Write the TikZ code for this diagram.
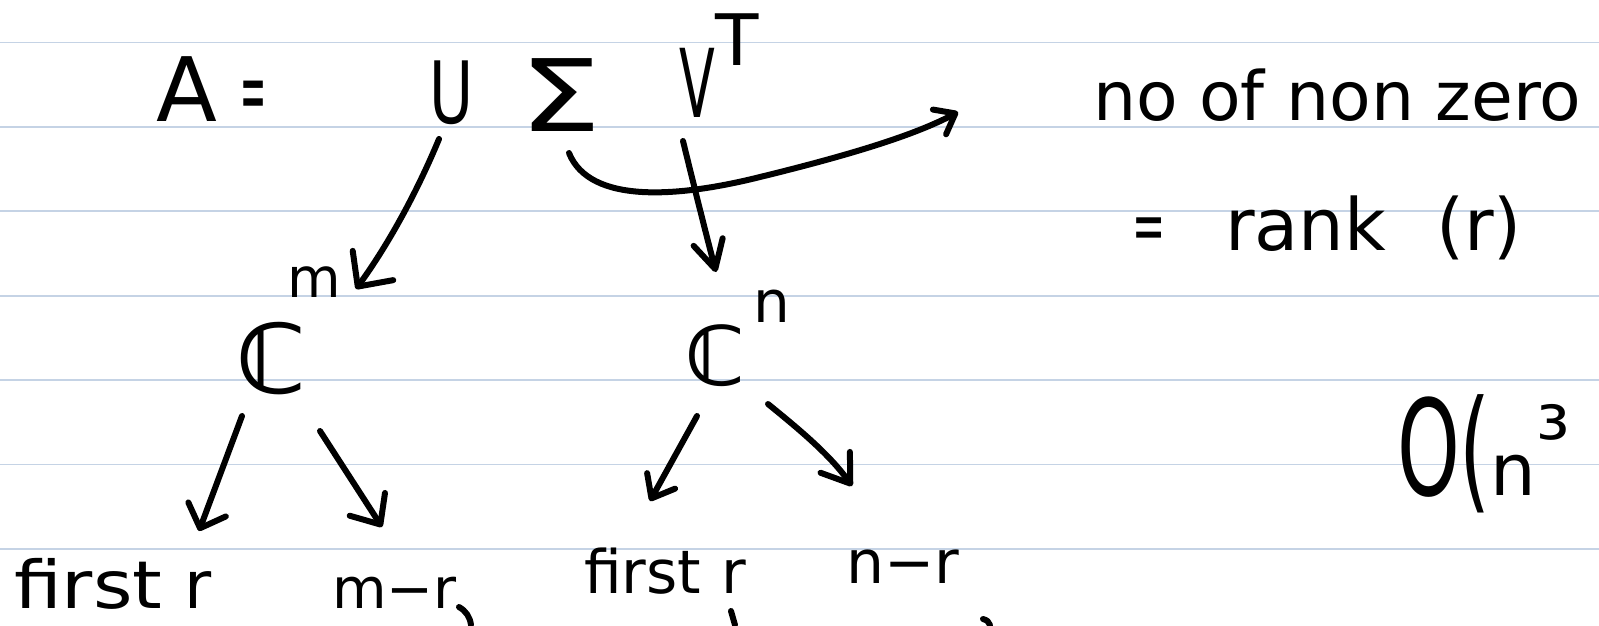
\documentclass[tikz,border=0pt]{standalone}
\usepackage{fontspec}
\usepackage{graphicx}
\setmainfont{DejaVu Sans}
\usetikzlibrary{arrows.meta}
\newcommand{\fsz}[1]{\fontsize{#1pt}{#1pt}\selectfont}
\definecolor{ruleblue}{RGB}{197,211,229}
\begin{document}
\begin{tikzpicture}[x=1pt,y=-1pt,
  lbl/.style={inner sep=0pt,outer sep=0pt,text=black},
  pen/.style={line width=6pt,line cap=round,line join=round},
  ruled/.style={draw=ruleblue,line width=1.6pt}]
\useasboundingbox (0,0) rectangle (1599,625);
\fill[white] (0,0) rectangle (1599,625);
\foreach \yy in {42.5,127,211,296,380,464.5,549} \draw[ruled] (0,\yy) -- (1599,\yy);

% top equation
\node[lbl,anchor=base west,font=\fsz{89}] (A) at (156,121) {A\hspace{24pt}\scalebox{0.35}[1]{=}};
\node[lbl,anchor=base,font=\fsz{86}] (U) at (452,123) {\scalebox{0.7}[1]{U}};
\node[lbl,anchor=base,font=\fsz{100}] (S) at (561,131) {\scalebox{1.3}[1]{Σ}};
\node[lbl,anchor=base,font=\fsz{95}] (V) at (697,117) {\scalebox{0.55}[1]{V}};
\node[lbl,anchor=base,font=\fsz{71}] (T) at (737,65) {T};

% right notes
\node[lbl,anchor=base west,font=\fsz{68}] (nz) at (1093,120) {no of non zero};
\node[lbl,anchor=base west,font=\fsz{72}] (rk) at (1132,250) {\scalebox{0.55}[1]{=}\hspace{60pt}rank\hspace{50pt}(r)};
\node[lbl,anchor=base west] (On) at (1397,495) {{\fsz{133}\scalebox{0.6}[1]{O(}}{\fsz{72}n}{\fsz{85}\raisebox{28pt}{³}}};

% C^m and C^n
\node[lbl,anchor=base west,font=\fsz{96}\bfseries] (Cm) at (236,393) {ℂ};
\node[lbl,anchor=base west,font=\fsz{55}] (m) at (287,297) {m};
\node[lbl,anchor=base west,font=\fsz{82}\bfseries] (Cn) at (685,385) {ℂ};
\node[lbl,anchor=base west,font=\fsz{58}] (n) at (753,322) {n};

% bottom labels
\node[lbl,anchor=base west,font=\fsz{66}] (f1) at (14,608) {\scalebox{1.15}[1]{first}\hspace{22pt}r};
\node[lbl,anchor=base west,font=\fsz{56}] (mr) at (332,608) {m−r};
\node[lbl,anchor=base west,font=\fsz{60}] (f2) at (584,593) {first\hspace{20pt}r};
\node[lbl,anchor=base west,font=\fsz{60}] (nr) at (846,583) {n−r};

% arrow end points
\coordinate (uS) at (439,139);
\coordinate (uE) at (356,289);
\coordinate (vS) at (683,141);
\coordinate (vE) at (716,272);
\coordinate (sS) at (569,153);
\coordinate (sE) at (958,112);
\coordinate (a1S) at (242,416);
\coordinate (a1E) at (199,531);
\coordinate (a2S) at (320,431);
\coordinate (a2E) at (382,527);
\coordinate (b1S) at (697,416);
\coordinate (b1E) at (650,501);
\coordinate (b2S) at (768,404);
\coordinate (b2E) at (852,486);

\draw[pen,-{Straight Barb[length=26pt,width=50pt,round]}] (uS) .. controls (422,180) and (395,235) .. (uE);
\draw[pen,-{Straight Barb[length=28pt,width=30pt,round]}] (vS) .. controls (695,190) and (705,230) .. (vE);
\draw[pen,-{Straight Barb[length=18pt,width=28pt,round]}] (sS) .. controls (590,205) and (680,197) .. (760,177) .. controls (850,155) and (915,135) .. (sE);
\draw[pen,-{Straight Barb[length=20pt,width=40pt,round]}] (a1S) -- (a1E);
\draw[pen,-{Straight Barb[length=24pt,width=42pt,round]}] (a2S) -- (a2E);
\draw[pen,-{Straight Barb[length=20pt,width=32pt,round]}] (b1S) -- (b1E);
\draw[pen,-{Straight Barb[length=26pt,width=36pt,round]}] (b2S) .. controls (800,430) and (830,455) .. (b2E);

% cut-off strokes at the bottom edge
\draw[pen] (459,607) .. controls (466,611) and (470,617) .. (471,625);
\draw[pen] (731,611) -- (735,625);
\draw[pen] (983,619) .. controls (987,620) and (989,622) .. (990,625);
\end{tikzpicture}
\end{document}
